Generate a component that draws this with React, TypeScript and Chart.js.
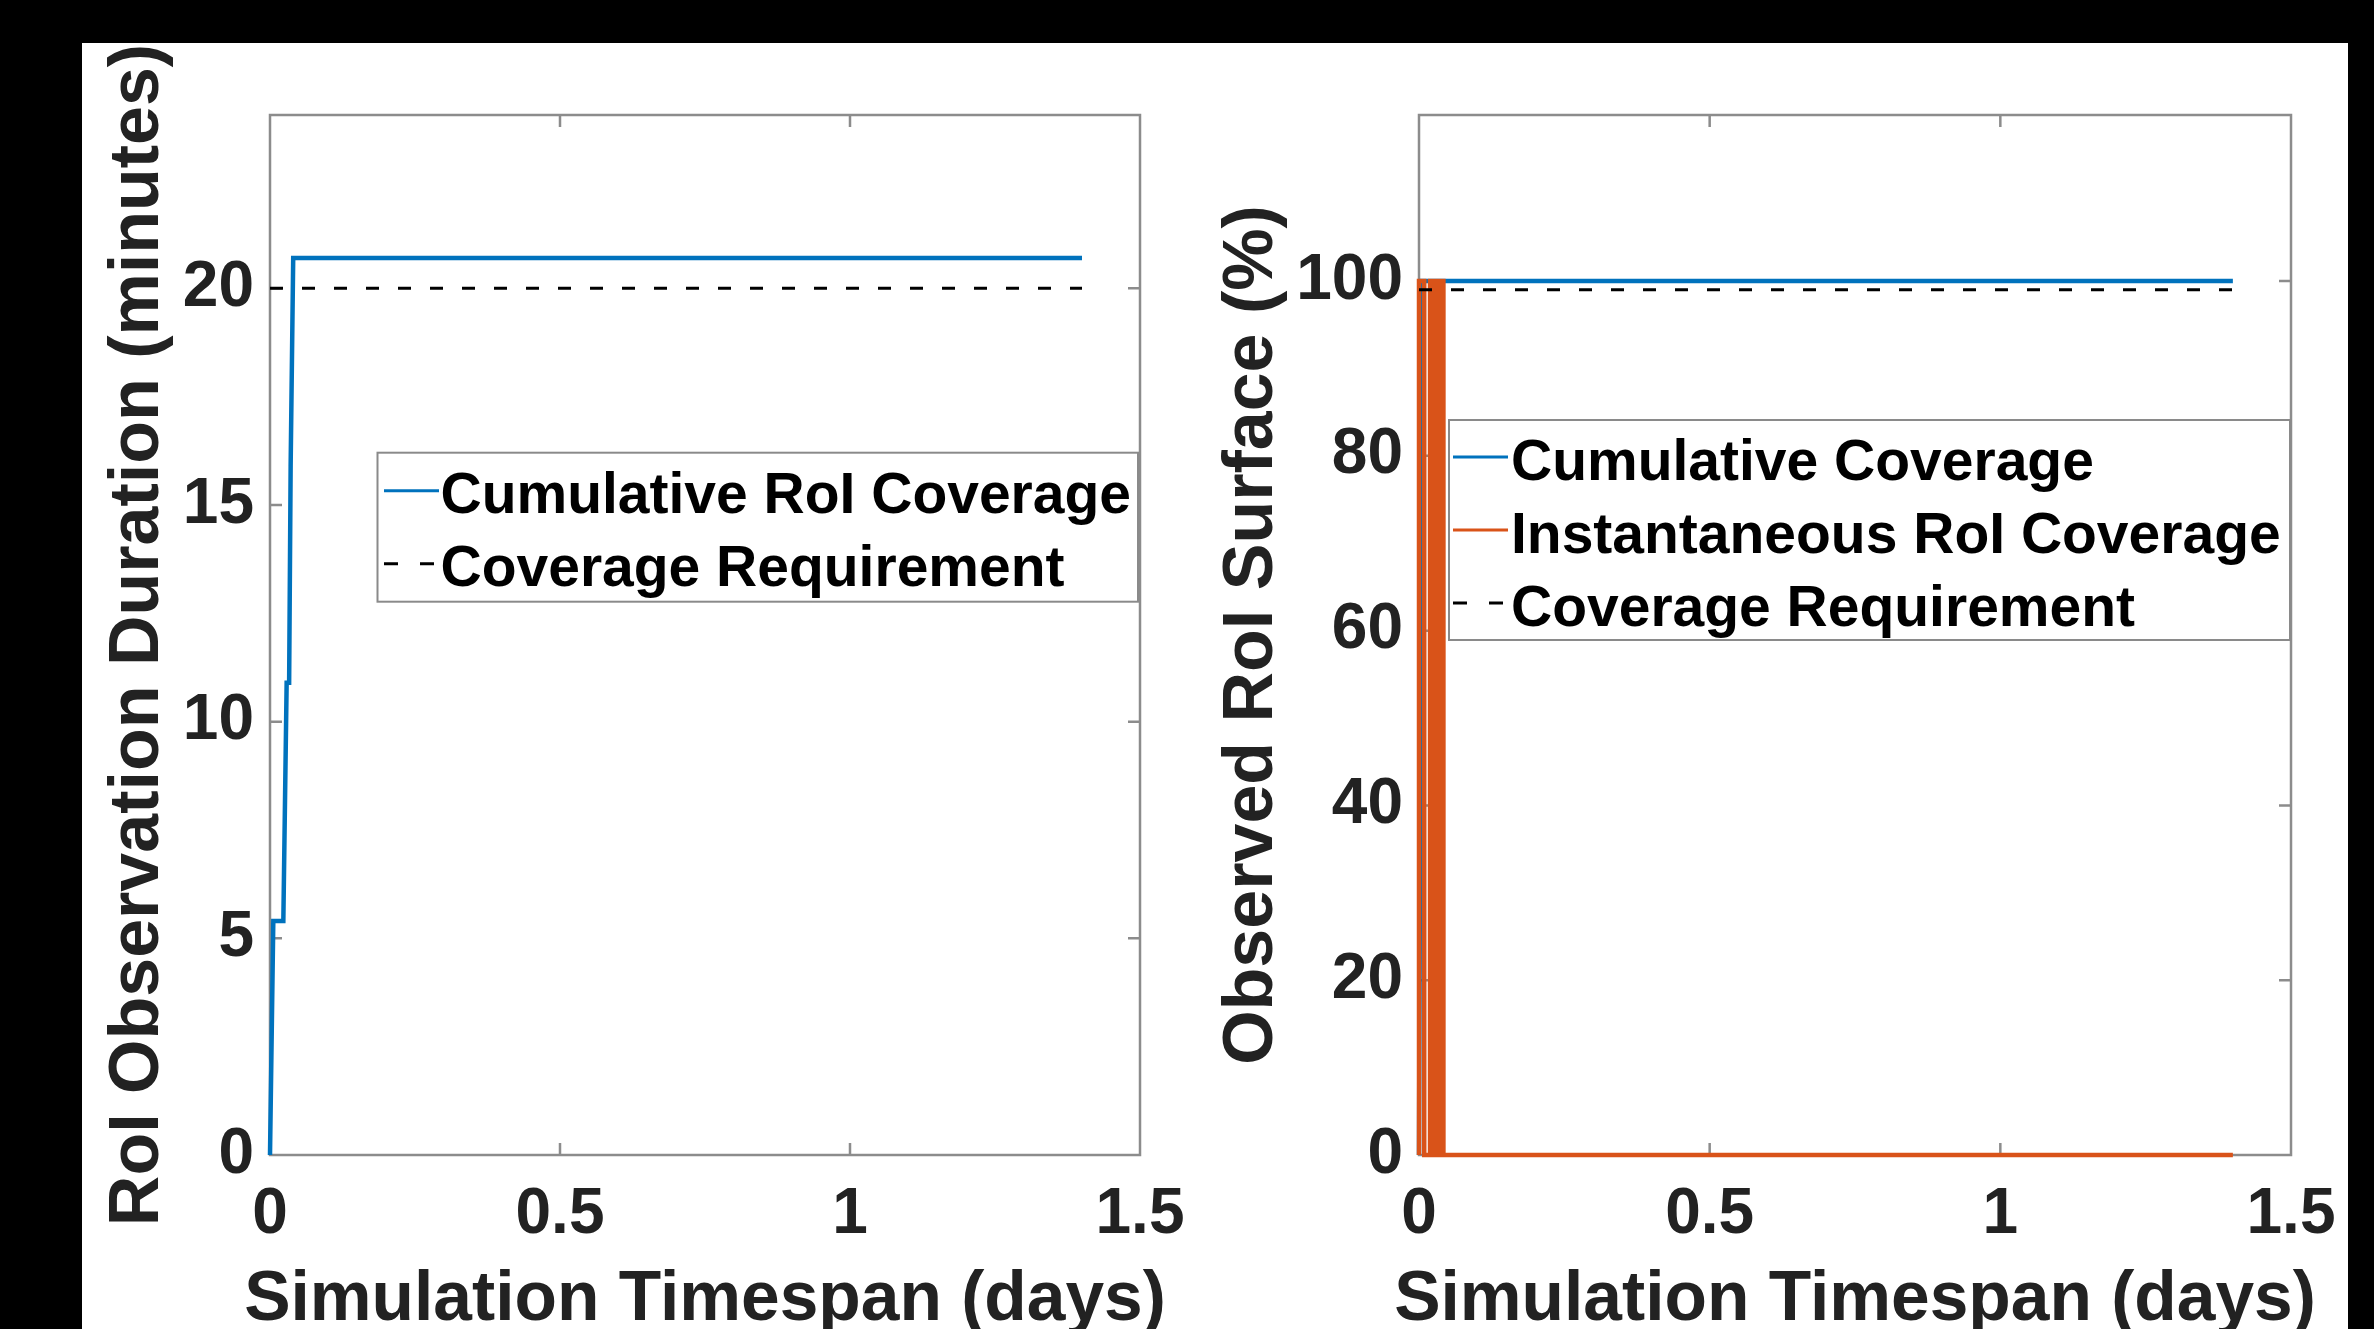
import React, { useEffect, useRef } from "react";
import { Chart, registerables } from "chart.js";

Chart.register(...registerables);

// ---------- data ----------
const xTicks = [0, 0.5, 1, 1.5];
const leftYTicks = [0, 5, 10, 15, 20];
const rightYTicks = [0, 20, 40, 60, 80, 100];
const xTitleText = "Simulation Timespan (days)";

const leftCumX = [0, 0.0057, 0.023, 0.0287, 0.033, 0.0356, 0.04, 1.4];
const leftCumY = [0, 5.4, 5.4, 10.9, 10.9, 15.9, 20.7, 20.7];
const leftReqX = [0, 1.4];
const leftReqY = [20, 20];

const rightCumX = [0, 0.005, 1.4];
const rightCumY = [0, 100, 100];
const rightInstX = [0, 0, 0.009, 0.009, 0.019, 0.019, 0.026, 0.026, 0.028, 0.028, 0.034, 0.034, 0.036, 0.036, 0.042, 0.042, 1.4];
const rightInstY = [0, 100, 100, 0, 0, 100, 100, 0, 0, 100, 100, 0, 0, 100, 100, 0, 0];
const rightReqX = [0, 1.4];
const rightReqY = [99, 99];

const BLUE = "#0072BD";
const ORANGE = "#D95319";
const TEXT = "#222222";
const FRAME = "#8c8c8c";
const FONT = '"Liberation Sans", Arial, sans-serif';

const pts = (xs: number[], ys: number[]) => xs.map((x, i) => ({ x, y: ys[i] }));

// ---------- plugins ----------
const framePlugin = {
  id: "frame",
  beforeDatasetsDraw(chart: any, _args: any, opts: any) {
    const { ctx, chartArea: a, scales } = chart;
    const L = opts.tickLen;
    ctx.save();
    ctx.strokeStyle = opts.color;
    ctx.lineWidth = opts.width;
    ctx.strokeRect(a.left, a.top, a.right - a.left, a.bottom - a.top);
    ctx.beginPath();
    scales.x.ticks.forEach((t: any) => {
      const px = scales.x.getPixelForValue(t.value);
      if (px > a.left + 2 && px < a.right - 2) {
        ctx.moveTo(px, a.bottom);
        ctx.lineTo(px, a.bottom - L);
        ctx.moveTo(px, a.top);
        ctx.lineTo(px, a.top + L);
      }
    });
    scales.y.ticks.forEach((t: any) => {
      const py = scales.y.getPixelForValue(t.value);
      if (py > a.top + 2 && py < a.bottom - 2) {
        ctx.moveTo(a.left, py);
        ctx.lineTo(a.left + L, py);
        ctx.moveTo(a.right, py);
        ctx.lineTo(a.right - L, py);
      }
    });
    ctx.stroke();
    ctx.restore();
  },
};

const boxLegendPlugin = {
  id: "boxLegend",
  afterDatasetsDraw(chart: any, _args: any, opts: any) {
    const { ctx, chartArea: a } = chart;
    const x0 = a.left + opts.x;
    const y0 = a.top + opts.y;
    ctx.save();
    ctx.fillStyle = "#ffffff";
    ctx.fillRect(x0, y0, opts.w, opts.h);
    ctx.strokeStyle = opts.borderColor;
    ctx.lineWidth = 2;
    ctx.strokeRect(x0, y0, opts.w, opts.h);
    chart.data.datasets.forEach((ds: any, i: number) => {
      const cy = y0 + opts.firstRow + i * opts.rowH;
      ctx.beginPath();
      ctx.setLineDash(ds.borderDash && ds.borderDash.length ? opts.dash : []);
      ctx.strokeStyle = ds.borderColor;
      ctx.lineWidth = opts.sampleWidth;
      ctx.moveTo(x0 + opts.lineStart, cy);
      ctx.lineTo(x0 + opts.lineStart + opts.lineLen, cy);
      ctx.stroke();
      ctx.setLineDash([]);
      ctx.fillStyle = "#000000";
      ctx.font = `bold ${opts.fontSize}px ${FONT}`;
      ctx.textBaseline = "middle";
      ctx.textAlign = "left";
      ctx.fillText(ds.label, x0 + opts.textStart, cy + opts.textDy);
    });
    ctx.restore();
  },
};

const xTitlePlugin = {
  id: "xTitle",
  afterDraw(chart: any, _args: any, opts: any) {
    const { ctx, chartArea: a } = chart;
    ctx.save();
    ctx.font = `bold ${opts.size}px ${FONT}`;
    ctx.fillStyle = TEXT;
    ctx.textAlign = "center";
    ctx.textBaseline = "alphabetic";
    ctx.fillText(opts.text, (a.left + a.right) / 2, a.bottom + opts.offset);
    ctx.restore();
  },
};

// ---------- config builder ----------
function makeConfig(p: any) {
  return {
    type: "line",
    data: { datasets: p.datasets },
    plugins: [framePlugin, boxLegendPlugin, xTitlePlugin],
    options: {
      animation: false,
      responsive: false,
      maintainAspectRatio: false,
      elements: { point: { radius: 0 }, line: { tension: 0 } },
      layout: { padding: p.padding },
      plugins: {
        legend: { display: false },
        tooltip: { enabled: false },
        frame: { color: FRAME, width: 2.5, tickLen: 12 },
        boxLegend: p.legend,
        xTitle: { text: xTitleText, size: 69.5, offset: 165 },
      },
      scales: {
        x: {
          type: "linear",
          min: 0,
          max: 1.5,
          grid: { display: false, drawTicks: false },
          border: { display: false },
          afterBuildTicks: (s: any) => {
            s.ticks = xTicks.map((v) => ({ value: v }));
          },
          afterFit: (s: any) => {
            s.height = p.xHeight;
          },
          ticks: {
            padding: 22,
            color: TEXT,
            font: { family: FONT, size: 64, weight: "bold" },
            maxRotation: 0,
            callback: (v: any) => String(v),
          },
          title: { display: false },
        },
        y: {
          type: "linear",
          min: 0,
          max: p.yMax,
          grid: { display: false, drawTicks: false },
          border: { display: false },
          afterBuildTicks: (s: any) => {
            s.ticks = p.yTicks.map((v: number) => ({ value: v }));
          },
          afterFit: (s: any) => {
            s.width = p.yWidth;
          },
          ticks: {
            padding: 16,
            color: TEXT,
            font: { family: FONT, size: 64, weight: "bold" },
            callback: (v: any) => String(v),
          },
          title: {
            display: true,
            text: p.yTitle,
            color: TEXT,
            padding: 0,
            font: { family: FONT, size: 70, weight: "bold", lineHeight: 1 },
          },
        },
      },
    },
  };
}

const leftConfig = () =>
  makeConfig({
    datasets: [
      {
        label: "Cumulative RoI Coverage",
        data: pts(leftCumX, leftCumY),
        borderColor: BLUE,
        borderWidth: 4.5,
        clip: 10,
        order: 2,
      },
      {
        label: "Coverage Requirement",
        data: pts(leftReqX, leftReqY),
        borderColor: "#000000",
        borderWidth: 3,
        borderDash: [13, 19],
        clip: 10,
        order: 1,
      },
    ],
    padding: { left: 22, right: 72, top: 72, bottom: 7 },
    xHeight: 181,
    yWidth: 166,
    yMax: 24,
    yTicks: leftYTicks,
    yTitle: "RoI Observation Duration (minutes)",
    legend: {
      x: 107.5,
      y: 337.7,
      w: 760.5,
      h: 149,
      firstRow: 38,
      rowH: 73,
      lineStart: 6.5,
      lineLen: 55,
      textStart: 63,
      textDy: 7,
      sampleWidth: 3,
      dash: [14, 22],
      fontSize: 57,
      borderColor: "#8a8a8a",
    },
  });

const rightConfig = () =>
  makeConfig({
    datasets: [
      {
        label: "Cumulative Coverage",
        data: pts(rightCumX, rightCumY),
        borderColor: BLUE,
        borderWidth: 4.5,
        clip: 10,
        order: 3,
      },
      {
        label: "Instantaneous RoI Coverage",
        data: pts(rightInstX, rightInstY),
        borderColor: ORANGE,
        borderWidth: 4.5,
        clip: 10,
        order: 2,
      },
      {
        label: "Coverage Requirement",
        data: pts(rightReqX, rightReqY),
        borderColor: "#000000",
        borderWidth: 3,
        borderDash: [13, 19],
        clip: 10,
        order: 1,
      },
    ],
    padding: { left: 6, right: 83, top: 72, bottom: 7 },
    xHeight: 181,
    yWidth: 201,
    yMax: 119,
    yTicks: rightYTicks,
    yTitle: "Observed RoI Surface (%)",
    legend: {
      x: 30,
      y: 305,
      w: 841,
      h: 220,
      firstRow: 37,
      rowH: 73,
      lineStart: 4,
      lineLen: 55,
      textStart: 62,
      textDy: 7,
      sampleWidth: 3,
      dash: [14, 22],
      fontSize: 57,
      borderColor: "#8a8a8a",
    },
  });

function Panel(props: { make: () => any; left: number; top: number; w: number; h: number }) {
  const ref = useRef<HTMLCanvasElement | null>(null);
  useEffect(() => {
    const chart = new Chart(ref.current as HTMLCanvasElement, props.make());
    return () => chart.destroy();
  }, []);
  return (
    <canvas
      ref={ref}
      width={props.w}
      height={props.h}
      style={{ position: "absolute", left: props.left, top: props.top, width: props.w, height: props.h }}
    />
  );
}

export default function App() {
  return (
    <div
      style={{
        position: "absolute",
        left: 0,
        top: 0,
        width: 2374,
        height: 1329,
        background: "#000000",
        overflow: "hidden",
      }}
    >
      <div style={{ position: "absolute", left: 82, top: 43, width: 2266, height: 1300, background: "#ffffff" }} />
      <Panel make={leftConfig} left={82} top={43} w={1130} h={1300} />
      <Panel make={rightConfig} left={1212} top={43} w={1162} h={1300} />
    </div>
  );
}
